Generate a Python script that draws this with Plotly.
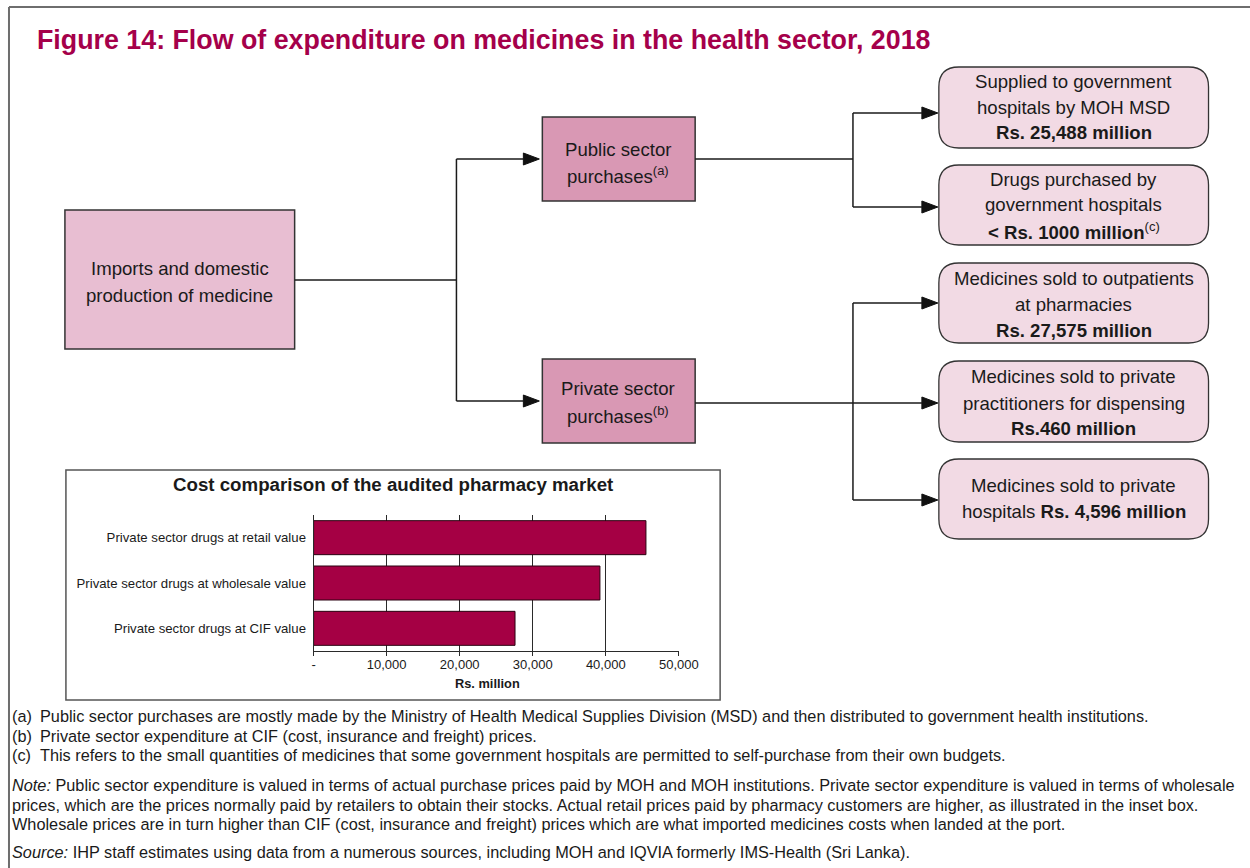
import plotly.graph_objects as go

W, H = 1250, 868
W_EFF = 1229.5  # horizontal extent the page actually draws the paper across

# ---- data ----
categories = ["Private sector drugs at retail value",
              "Private sector drugs at wholesale value",
              "Private sector drugs at CIF value"]
values_rs_million = [45500, 39200, 27575]
tick_values = [0, 10000, 20000, 30000, 40000, 50000]
tick_labels = ["-", "10,000", "20,000", "30,000", "40,000", "50,000"]

TITLE = "Figure 14: Flow of expenditure on medicines in the health sector, 2018"
INSET_TITLE = "Cost comparison of the audited pharmacy market"
X_TITLE = "Rs. million"

CRIMSON = "#a5004a"
FONT = "Liberation Sans, Arial, sans-serif"
TXT = "#1a1a1a"
BOX_FS = 18.6
FS = 16.3


def px(x):
    return x / W_EFF


def py(y):
    return 1 - y / H


shapes = []
annotations = []


def line(x0, y0, x1, y1, color="#1a1a1a", width=1.5):
    shapes.append(dict(type="line", xref="paper", yref="paper",
                       x0=px(x0), y0=py(y0), x1=px(x1), y1=py(y1),
                       line=dict(color=color, width=width)))


def arrowhead(xtip, y, length=16, half=6):
    path = (f"M {px(xtip)},{py(y)} L {px(xtip - length)},{py(y - half)} "
            f"L {px(xtip - length)},{py(y + half)} Z")
    shapes.append(dict(type="path", xref="paper", yref="paper", path=path,
                       fillcolor="#111111", line=dict(color="#111111", width=1)))


def rect(x0, y0, x1, y1, fill, lc="#333333", lw=1.5):
    shapes.append(dict(type="rect", xref="paper", yref="paper",
                       x0=px(x0), y0=py(y0), x1=px(x1), y1=py(y1),
                       fillcolor=fill, line=dict(color=lc, width=lw), layer="below"))


def rrect(x0, y0, x1, y1, r, fill, lc="#333333", lw=1.3):
    P = lambda x, y: f"{px(x)},{py(y)}"
    path = (f"M {P(x0 + r, y0)} L {P(x1 - r, y0)} Q {P(x1, y0)} {P(x1, y0 + r)} "
            f"L {P(x1, y1 - r)} Q {P(x1, y1)} {P(x1 - r, y1)} "
            f"L {P(x0 + r, y1)} Q {P(x0, y1)} {P(x0, y1 - r)} "
            f"L {P(x0, y0 + r)} Q {P(x0, y0)} {P(x0 + r, y0)} Z")
    shapes.append(dict(type="path", xref="paper", yref="paper", path=path,
                       fillcolor=fill, line=dict(color=lc, width=lw), layer="below"))


def text(x, y, s, size=BOX_FS, anchor="center", color=TXT, bold=False):
    if bold:
        s = f"<b>{s}</b>"
    if anchor == "left":
        x -= 4
    annotations.append(dict(x=px(x), y=py(y), xref="paper", yref="paper", text=s,
                            showarrow=False, xanchor=anchor, yanchor="middle",
                            font=dict(family=FONT, size=size, color=color)))


# ---- outer frame ----
line(7, 7, W + 30, 7, color="#6e6e6e", width=2)
line(7, 7, 7, H, color="#6e6e6e", width=2)

# ---- title ----
text(37, 40, TITLE, size=26.8, anchor="left", color=CRIMSON, bold=True)

# ---- flow boxes ----
rect(63, 210, 293, 349, "#e8bed2")
text(178, 268, "Imports and domestic")
text(178, 295, "production of medicine")

rect(541, 117, 694, 201, "#d998b4")
text(617, 149, "Public sector")
text(617, 175, "purchases<sup>(a)</sup>")

rect(541, 359, 694, 443, "#d998b4")
text(617, 389, "Private sector")
text(617, 415, "purchases<sup>(b)</sup>")

RFILL = "#f2dae4"
rrect(938, 67, 1208, 148, 20, RFILL)
text(1073, 81, "Supplied to government")
text(1073, 107, "hospitals by MOH MSD")
text(1073, 133, "Rs. 25,488 million", bold=True)

rrect(938, 165, 1208, 245, 20, RFILL)
text(1073, 179, "Drugs purchased by")
text(1073, 205, "government hospitals")
text(1073, 231, "<b>< Rs. 1000 million</b><sup>(c)</sup>")

rrect(938, 263, 1208, 343, 20, RFILL)
text(1073, 278, "Medicines sold to outpatients")
text(1073, 304, "at pharmacies")
text(1073, 330, "Rs. 27,575 million", bold=True)

rrect(938, 361, 1208, 442, 20, RFILL)
text(1073, 376, "Medicines sold to private")
text(1073, 403, "practitioners for dispensing")
text(1073, 428, "Rs.460 million", bold=True)

rrect(938, 459, 1208, 539, 20, RFILL)
text(1073, 486, "Medicines sold to private")
text(1073, 511, "hospitals <b>Rs. 4,596 million</b>")

# ---- connectors ----
line(293, 280, 455, 280)
line(455, 159, 455, 401)
line(455, 159, 522, 159)
arrowhead(538, 159)
line(455, 401, 522, 401)
arrowhead(538, 401)

line(694, 159, 852, 159)
line(852, 113, 852, 207)
line(852, 113, 921, 113)
arrowhead(937, 113)
line(852, 207, 921, 207)
arrowhead(937, 207)

line(694, 403, 921, 403)
line(852, 303, 852, 500)
line(852, 303, 921, 303)
arrowhead(937, 303)
arrowhead(937, 403)
line(852, 500, 921, 500)
arrowhead(937, 500)

# ---- inset box ----
shapes.append(dict(type="rect", xref="paper", yref="paper",
                   x0=px(64), y0=py(470), x1=px(719), y1=py(700),
                   line=dict(color="#555555", width=1.5), layer="below"))
text(391, 484, INSET_TITLE, size=18.7, bold=True)
text(486, 683, X_TITLE, size=12.8, bold=True)

# ---- footnotes ----
notes = [(716, "(a)", "Public sector purchases are mostly made by the Ministry of Health Medical Supplies Division (MSD) and then distributed to government health institutions."),
         (736, "(b)", "Private sector expenditure at CIF (cost, insurance and freight) prices."),
         (755, "(c)", "This refers to the small quantities of medicines that some government hospitals are permitted to self-purchase from their own budgets.")]
for y, lab, s in notes:
    text(12, y, lab, size=FS, anchor="left")
    text(40, y, s, size=FS, anchor="left")

text(12, 785, "<i>Note:</i> Public sector expenditure is valued in terms of actual purchase prices paid by MOH and MOH institutions. Private sector expenditure is valued in terms of wholesale", size=FS, anchor="left")
text(12, 805, "prices, which are the prices normally paid by retailers to obtain their stocks. Actual retail prices paid by pharmacy customers are higher, as illustrated in the inset box.", size=FS, anchor="left")
text(12, 824, "Wholesale prices are in turn higher than CIF (cost, insurance and freight) prices which are what imported medicines costs when landed at the port.", size=FS, anchor="left")
text(12, 852, "<i>Source:</i> IHP staff estimates using data from a numerous sources, including MOH and IQVIA formerly IMS-Health (Sri Lanka).", size=FS, anchor="left")

# ---- bar chart ----
fig = go.Figure()
fig.add_trace(go.Bar(
    y=categories, x=values_rs_million, orientation="h",
    marker=dict(color="#a50044", line=dict(color="#2a0010", width=1)),
    width=0.75, hoverinfo="x+y", showlegend=False,
))

fig.update_layout(
    width=W, height=H, autosize=False,
    margin=dict(l=0, r=0, t=0, b=0),
    paper_bgcolor="white", plot_bgcolor="rgba(0,0,0,0)",
    font=dict(family=FONT, color=TXT),
    shapes=shapes, annotations=annotations,
    xaxis=dict(domain=[px(312), px(678)], range=[0, 50050],
               tickvals=tick_values, ticktext=tick_labels,
               showgrid=True, gridcolor="#2a2a2a", gridwidth=1,
               showline=True, linecolor="#2a2a2a", linewidth=1,
               ticks="outside", ticklen=4, tickcolor="#2a2a2a",
               ticklabelstandoff=-3,
               tickfont=dict(size=13, family=FONT, color=TXT),
               zeroline=False, fixedrange=True),
    yaxis=dict(domain=[py(651), py(515)], autorange="reversed",
               categoryorder="array", categoryarray=categories,
               showline=True, linecolor="#2a2a2a", linewidth=1,
               ticks="", ticklabelstandoff=4,
               tickfont=dict(size=13.2, family=FONT, color=TXT),
               showgrid=False, fixedrange=True),
)

fig.write_html(
    "out.html",
    config={"responsive": False, "displayModeBar": False},
    post_script=("document.documentElement.style.overflow='hidden';"
                 "document.body.style.margin='0';document.body.style.overflow='hidden';"),
)
